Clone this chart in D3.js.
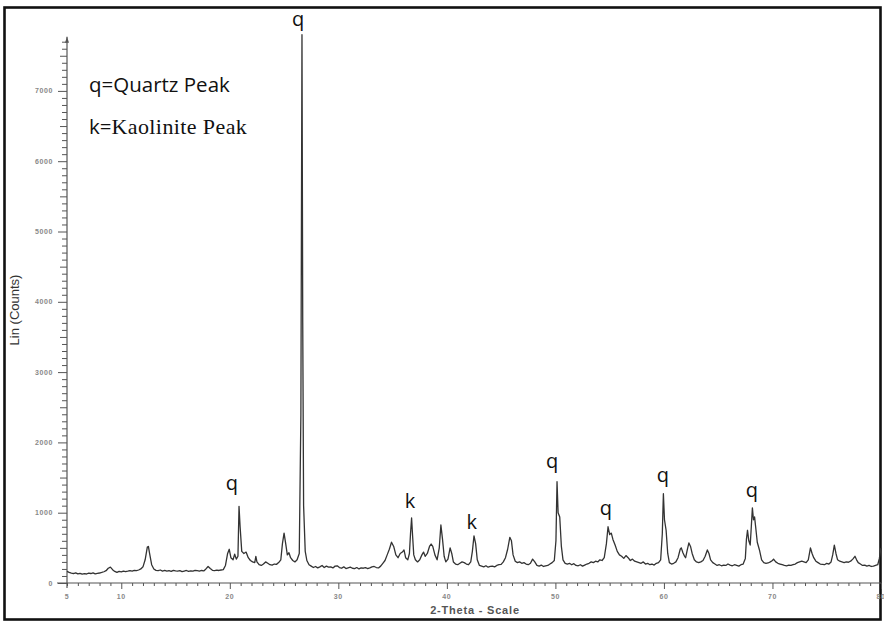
<!DOCTYPE html>
<html>
<head>
<meta charset="utf-8">
<script src="https://cdn.jsdelivr.net/npm/d3@7"></script>
<style>
    body { margin: 0; background: #fff; }
</style>
</head>
<body>
<div id="chart"></div>
<script>
const chart_width = 884;
const chart_height = 622;

// 2-theta positions (degrees) and counts
const two_theta = [
    5.0, 5.2, 5.4, 5.6, 5.8, 6.0, 6.2, 6.4, 6.6, 6.8, 7.0, 7.2, 7.4, 7.6, 7.8, 8.0, 8.2, 8.4, 8.6, 8.8,
    9.0, 9.2, 9.4, 9.6, 9.8, 10.0, 10.2, 10.4, 10.6, 10.8, 11.0, 11.2, 11.4, 11.6, 11.8, 12.0, 12.2, 12.4, 12.5, 12.6,
    12.8, 13.0, 13.2, 13.4, 13.6, 13.8, 14.0, 14.2, 14.4, 14.6, 14.8, 15.0, 15.2, 15.4, 15.6, 15.8, 16.0, 16.2, 16.4, 16.6,
    16.8, 17.0, 17.2, 17.4, 17.6, 17.8, 18.0, 18.2, 18.4, 18.6, 18.8, 19.0, 19.2, 19.4, 19.6, 19.8, 19.95, 20.1, 20.3, 20.45,
    20.6, 20.75, 20.85, 20.95, 21.1, 21.3, 21.5, 21.7, 21.9, 22.1, 22.3, 22.4, 22.5, 22.7, 22.9, 23.1, 23.3, 23.5, 23.7, 23.9,
    24.1, 24.3, 24.5, 24.7, 24.85, 25.0, 25.15, 25.3, 25.45, 25.6, 25.8, 26.0, 26.2, 26.4, 26.55, 26.65, 26.72, 26.8, 26.95, 27.1,
    27.3, 27.5, 27.7, 27.9, 28.1, 28.3, 28.5, 28.7, 28.9, 29.1, 29.3, 29.5, 29.7, 29.9, 30.1, 30.3, 30.5, 30.7, 30.9, 31.1,
    31.3, 31.5, 31.7, 31.9, 32.1, 32.3, 32.5, 32.7, 32.9, 33.1, 33.3, 33.5, 33.7, 33.9, 34.1, 34.3, 34.5, 34.7, 34.9, 35.1,
    35.3, 35.5, 35.7, 35.9, 36.05, 36.2, 36.4, 36.55, 36.65, 36.75, 36.85, 36.95, 37.1, 37.3, 37.5, 37.7, 37.85, 38.0, 38.2, 38.4,
    38.55, 38.7, 38.9, 39.1, 39.3, 39.45, 39.6, 39.75, 39.9, 40.1, 40.3, 40.45, 40.6, 40.8, 41.0, 41.2, 41.4, 41.6, 41.8, 42.0,
    42.2, 42.35, 42.5, 42.65, 42.8, 43.0, 43.2, 43.4, 43.6, 43.8, 44.0, 44.2, 44.4, 44.6, 44.8, 45.0, 45.2, 45.4, 45.6, 45.8,
    45.95, 46.1, 46.3, 46.5, 46.7, 46.9, 47.1, 47.3, 47.5, 47.7, 47.9, 48.1, 48.3, 48.5, 48.7, 48.9, 49.1, 49.3, 49.5, 49.7,
    49.9, 50.05, 50.15, 50.25, 50.4, 50.55, 50.7, 50.9, 51.1, 51.3, 51.5, 51.7, 51.9, 52.1, 52.3, 52.5, 52.7, 52.9, 53.1, 53.3,
    53.5, 53.7, 53.9, 54.1, 54.3, 54.5, 54.7, 54.85, 55.0, 55.15, 55.3, 55.5, 55.7, 55.9, 56.1, 56.3, 56.5, 56.7, 56.9, 57.1,
    57.3, 57.5, 57.7, 57.9, 58.1, 58.3, 58.5, 58.7, 58.9, 59.1, 59.3, 59.5, 59.7, 59.85, 59.95, 60.05, 60.2, 60.35, 60.5, 60.7,
    60.9, 61.1, 61.3, 61.5, 61.6, 61.75, 61.9, 62.0, 62.15, 62.3, 62.45, 62.6, 62.8, 63.0, 63.2, 63.4, 63.6, 63.8, 64.0, 64.15,
    64.3, 64.5, 64.7, 64.9, 65.1, 65.3, 65.5, 65.7, 65.9, 66.1, 66.3, 66.5, 66.7, 66.9, 67.1, 67.3, 67.5, 67.6, 67.7, 67.82,
    67.95, 68.05, 68.15, 68.25, 68.35, 68.45, 68.6, 68.8, 69.0, 69.2, 69.4, 69.6, 69.8, 70.0, 70.1, 70.3, 70.5, 70.7, 70.9, 71.1,
    71.3, 71.5, 71.7, 71.9, 72.1, 72.3, 72.5, 72.7, 72.9, 73.1, 73.3, 73.5, 73.65, 73.8, 74.0, 74.2, 74.4, 74.6, 74.8, 75.0,
    75.2, 75.4, 75.55, 75.7, 75.85, 76.0, 76.2, 76.4, 76.6, 76.8, 77.0, 77.2, 77.4, 77.6, 77.75, 77.9, 78.1, 78.3, 78.5, 78.7,
    78.9, 79.1, 79.3, 79.5, 79.7, 79.85, 80.0
];

const counts = [
    165, 150, 140, 135, 145, 130, 138, 125, 132, 128, 140, 135, 145, 130, 138, 142, 150, 160, 175, 210,
    225, 190, 165, 150, 165, 158, 170, 162, 168, 175, 170, 180, 175, 185, 200, 230, 330, 510, 520, 430,
    260, 200, 180, 175, 185, 170, 178, 168, 175, 165, 180, 172, 168, 175, 162, 170, 178, 165, 172, 168,
    180, 175, 170, 178, 172, 200, 235, 205, 180, 175, 182, 178, 185, 190, 250, 420, 480, 360, 330, 410,
    340, 380, 1090, 800, 450, 420, 440, 360, 320, 300, 290, 380, 300, 260, 250, 270, 300, 280, 260, 255,
    270, 265, 290, 330, 560, 710, 560, 400, 430, 360, 320, 300, 330, 420, 2400, 7800, 3700, 1100, 450, 320,
    260, 240, 220, 235, 215, 230, 250, 220, 240, 225, 230, 215, 240, 245, 220, 210, 230, 205, 215, 225,
    210, 205, 220, 200, 215, 210, 220, 205, 215, 230, 235, 220, 215, 240, 280, 320, 400, 480, 580, 520,
    400, 360, 420, 440, 470, 360, 330, 420, 700, 925, 650, 400, 330, 300, 330, 400, 440, 380, 420, 520,
    555, 520, 400, 330, 500, 825, 620, 380, 300, 340, 500, 420, 300, 270, 260, 280, 300, 290, 270, 260,
    300, 450, 670, 560, 330, 250, 240, 230, 245, 225, 235, 240, 230, 250, 260, 265, 300, 360, 480, 650,
    600, 400, 310, 290, 300, 280, 290, 270, 260, 280, 340, 300, 250, 240, 255, 235, 245, 250, 270, 290,
    320, 600, 1440, 1000, 940, 520, 330, 280, 270, 280, 260, 275, 250, 245, 260, 240, 255, 270, 280, 300,
    290, 310, 300, 330, 320, 360, 560, 800, 690, 710, 620, 540, 450, 400, 380, 350, 390, 360, 320, 340,
    310, 300, 290, 280, 300, 270, 280, 260, 270, 255, 280, 290, 330, 700, 1270, 900, 750, 420, 290, 270,
    280, 300, 360, 480, 500, 430, 380, 360, 470, 570, 520, 420, 330, 300, 290, 300, 320, 380, 470, 420,
    330, 290, 270, 250, 260, 245, 255, 250, 270, 255, 245, 260, 250, 240, 260, 270, 350, 620, 750, 600,
    540, 800, 1070, 900, 940, 800, 580, 470, 330, 290, 280, 285, 300, 320, 340, 300, 280, 270, 260, 250,
    245, 255, 250, 260, 270, 290, 300, 310, 300, 290, 330, 500, 420, 360, 310, 290, 270, 265, 260, 280,
    270, 300, 400, 540, 420, 330, 310, 300, 290, 300, 295, 310, 340, 380, 330, 290, 270, 250, 255, 240,
    250, 235, 240, 250, 260, 350, 500
];

// peak markers: label, 2-theta and the counts level of the label baseline
const peak_labels = ['q', 'q', 'k', 'k', 'q', 'q', 'q', 'q'];
const peak_theta = [20.2, 26.3, 36.6, 42.3, 49.7, 54.65, 59.9, 68.1];
const peak_level = [1320, 7930, 1070, 770, 1630, 970, 1440, 1225];

const x_tick_values = [5, 10, 20, 30, 40, 50, 60, 70, 80];
const y_tick_values = [0, 1000, 2000, 3000, 4000, 5000, 6000, 7000];

const scan = two_theta.map((t, i) => ({ theta: t, num: counts[i] }));
const peaks = peak_labels.map((l, i) => ({ label: l, theta: peak_theta[i], level: peak_level[i] }));

//--------------------------------------------------------------------
// create svg element
const svg = d3.select('#chart')
    .append('svg')
    .attr('width', chart_width)
    .attr('height', chart_height);

// outer frame
svg.append('rect')
    .attr('x', 4.5)
    .attr('y', 7.5)
    .attr('width', 876)
    .attr('height', 612)
    .attr('fill', 'none')
    .attr('stroke', '#111')
    .attr('stroke-width', 2.6);

//--------------------------------------------------------------------
// Create Scales
const x_scale = d3.scaleLinear()
    .domain([5, 80])
    .range([67, 881]);

const y_scale = d3.scaleLinear()
    .domain([0, 1000])
    .range([583, 512.7]);

//--------------------------------------------------------------------
// Create Axis
const axis_color = '#555';

// x axis: minor tick every degree
const x_axis = d3.axisBottom(x_scale)
    .tickValues(d3.range(5, 81, 1))
    .tickSize(3)
    .tickFormat('');

const x_g = svg.append('g')
    .attr('class', 'x-axis')
    .attr('transform', 'translate(0,' + y_scale(0) + ')')
    .call(x_axis);

x_g.select('.domain').remove();
x_g.selectAll('.tick line')
    .attr('stroke', axis_color)
    .attr('y2', d => d % 10 === 0 ? 6 : 3);

x_g.append('line')
    .attr('x1', 57)
    .attr('x2', 881)
    .attr('stroke', axis_color)
    .attr('stroke-width', 1.2);

x_g.selectAll('.x-label')
    .data(x_tick_values)
    .enter()
    .append('text')
    .attr('class', 'x-label')
    .attr('x', d => x_scale(d))
    .attr('y', 16)
    .attr('text-anchor', 'middle')
    .attr('font-family', 'Liberation Sans, Arial, sans-serif')
    .attr('font-size', 7)
    .attr('font-weight', 'bold')
    .attr('letter-spacing', 0.6)
    .attr('fill', '#888')
    .text(d => d);

// y axis: minor tick every 100 counts
const y_axis = d3.axisLeft(y_scale)
    .tickValues(d3.range(0, 7800, 100))
    .tickSize(5)
    .tickFormat('');

const y_g = svg.append('g')
    .attr('class', 'y-axis')
    .attr('transform', 'translate(' + x_scale(5) + ',0)')
    .call(y_axis);

y_g.select('.domain').remove();
y_g.selectAll('.tick line')
    .attr('stroke', axis_color)
    .attr('x2', d => d % 1000 === 0 ? -9 : (d % 500 === 0 ? -7 : -5));

y_g.append('line')
    .attr('y1', 588)
    .attr('y2', y_scale(7770))
    .attr('stroke', axis_color)
    .attr('stroke-width', 1.2);

y_g.append('path')
    .attr('d', 'M-2,' + (y_scale(7770) + 6) + 'L0,' + y_scale(7770) + 'L2,' + (y_scale(7770) + 6) + 'Z')
    .attr('fill', axis_color);

y_g.selectAll('.y-label')
    .data(y_tick_values)
    .enter()
    .append('text')
    .attr('class', 'y-label')
    .attr('x', -14)
    .attr('y', d => y_scale(d) + 2.5)
    .attr('text-anchor', 'end')
    .attr('font-family', 'Liberation Sans, Arial, sans-serif')
    .attr('font-size', 7)
    .attr('font-weight', 'bold')
    .attr('letter-spacing', 0.6)
    .attr('fill', '#888')
    .text(d => d);

// axis titles
svg.append('text')
    .attr('transform', 'translate(19,310) rotate(-90)')
    .attr('text-anchor', 'middle')
    .attr('font-family', 'Liberation Sans Narrow, Liberation Sans, Arial, sans-serif')
    .attr('font-size', 13)
    .attr('fill', '#333')
    .text('Lin (Counts)');

svg.append('text')
    .attr('x', 475)
    .attr('y', 614)
    .attr('text-anchor', 'middle')
    .attr('font-family', 'Liberation Sans, Arial, sans-serif')
    .attr('font-size', 11)
    .attr('font-weight', 'bold')
    .attr('letter-spacing', 0.8)
    .attr('fill', '#555')
    .text('2-Theta - Scale');

//--------------------------------------------------------------------
// Create the scan line
const line = d3.line()
    .x(d => x_scale(d.theta))
    .y(d => y_scale(d.num));

svg.append('path')
    .datum(scan)
    .attr('d', line)
    .attr('fill', 'none')
    .attr('stroke', '#333')
    .attr('stroke-width', 1.3)
    .attr('stroke-linejoin', 'round');

//--------------------------------------------------------------------
// Peak labels
svg.append('g').selectAll('text')
    .data(peaks)
    .enter()
    .append('text')
    .attr('x', d => x_scale(d.theta))
    .attr('y', d => y_scale(d.level))
    .attr('text-anchor', 'middle')
    .attr('font-family', 'Open Sans, Noto Sans, sans-serif')
    .attr('font-size', 20)
    .attr('fill', '#111')
    .text(d => d.label);

// legend text
svg.append('text')
    .attr('x', 89)
    .attr('y', 92)
    .attr('font-family', 'Open Sans, Noto Sans, sans-serif')
    .attr('font-size', 20.5)
    .attr('fill', '#111')
    .text('q=Quartz Peak');

const legend_k = svg.append('text')
    .attr('x', 89)
    .attr('y', 134)
    .attr('fill', '#111');

legend_k.append('tspan')
    .attr('font-family', 'Open Sans, Noto Sans, sans-serif')
    .attr('font-size', 20.5)
    .text('k=');

legend_k.append('tspan')
    .attr('font-family', 'Liberation Serif, Times New Roman, serif')
    .attr('font-size', 22)
    .attr('letter-spacing', 0.4)
    .text('Kaolinite Peak');
</script>
</body>
</html>
